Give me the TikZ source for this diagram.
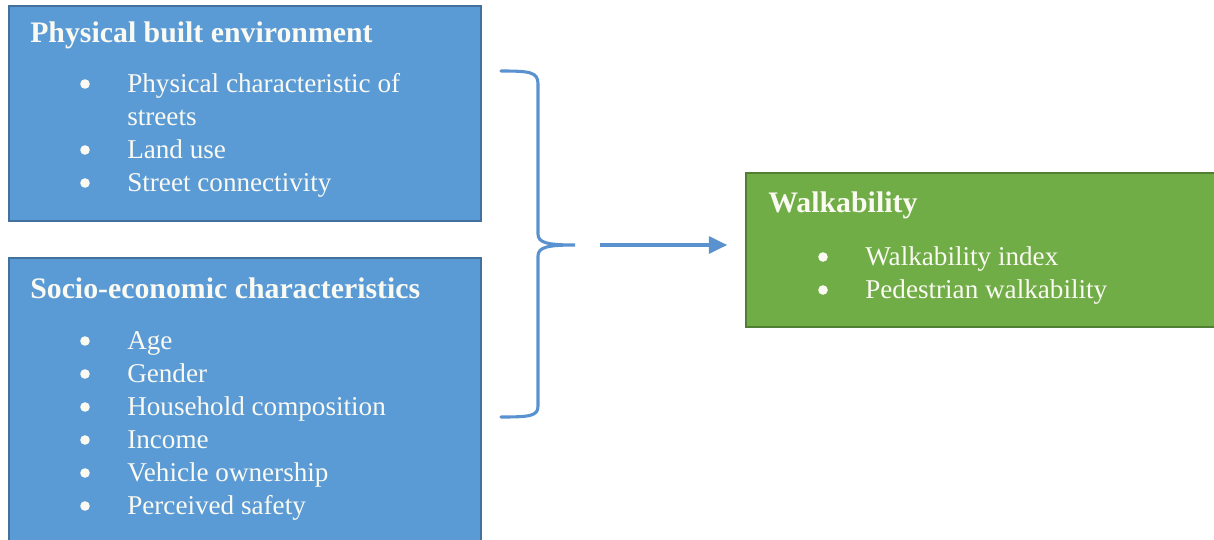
\documentclass[tikz,border=0pt]{standalone}
\usepackage{fontspec}
\setmainfont{Liberation Serif}
\usepackage{xcolor}
\usepackage{tikz}
\usetikzlibrary{arrows.meta,positioning,shapes,calc}

\definecolor{boxblue}{HTML}{5B9BD5}
\definecolor{edgeblue}{HTML}{41719C}
\definecolor{boxgreen}{HTML}{70AD47}
\definecolor{edgegreen}{HTML}{507E32}
\definecolor{linkblue}{HTML}{5A92CF}
\definecolor{paper}{HTML}{FAFAF2}

\begin{document}
\begin{tikzpicture}[x=0.025cm, y=-0.025cm,
    panel/.style={rectangle, draw, line width=1pt, inner sep=0pt},
    title/.style={anchor=base west, inner sep=0pt, text=paper, font=\fontsize{21.2}{25}\selectfont\bfseries},
    item/.style={anchor=base west, inner sep=0pt, text=paper, font=\fontsize{19.3}{24}\selectfont},
    link/.style={linkblue, line width=2.2pt}
]
    \useasboundingbox (0,0) rectangle (1214,539);

    % Physical built environment
    \node[panel, fill=boxblue, draw=edgeblue, minimum width=11.8cm, minimum height=5.375cm] (built) at (245,113.5) {};
    \node[title] (builtT) at (30,42) {Physical built environment};
    \node[item] (b1) at (127,92) {Physical characteristic of};
    \node[item] (b1b) at (127,125) {streets};
    \node[item] (b2) at (127,158) {Land use};
    \node[item] (b3) at (127,191) {Street connectivity};

    % Socio-economic characteristics
    \node[panel, fill=boxblue, draw=edgeblue, minimum width=11.8cm, minimum height=7.55cm] (socio) at (245,409) {};
    \node[title] (socioT) at (30,298) {Socio-economic characteristics};
    \node[item] (s1) at (127,349) {Age};
    \node[item] (s2) at (127,382) {Gender};
    \node[item] (s3) at (127,415) {Household composition};
    \node[item] (s4) at (127,448) {Income};
    \node[item] (s5) at (127,481) {Vehicle ownership};
    \node[item] (s6) at (127,514) {Perceived safety};

    % Walkability
    \node[panel, fill=boxgreen, draw=edgegreen, minimum width=11.9cm, minimum height=3.85cm] (walk) at (984,250) {};
    \node[title] (walkT) at (768,212) {Walkability};
    \node[item] (w1) at (865,265) {Walkability index};
    \node[item] (w2) at (865,298) {Pedestrian walkability};

    % Bullets
    \foreach \n in {b1,b2,b3,s1,s2,s3,s4,s5,s6,w1,w2}
        \fill[paper] ($(\n.base west)+(-42,-8)$) circle[radius=0.12cm];

    % Brace
    \coordinate (braceTop) at (501,71);
    \coordinate (braceTip) at (575,245);
    \coordinate (braceBot) at (501,417);
    \draw[link, line cap=round]
        (braceTop) .. controls (530,71) and (538,72) .. (538,84)
        -- (538,234) .. controls (538,243) and (548,245) .. (braceTip)
        .. controls (548,245) and (538,247) .. (538,256)
        -- (538,406) .. controls (538,416) and (530,417) .. (braceBot);

    % Arrow
    \draw[link, -{Triangle[length=13pt, width=12pt]}, shorten <=0.625cm, shorten >=0.45cm]
        (braceTip) -- (braceTip -| walk.west);
\end{tikzpicture}
\end{document}
